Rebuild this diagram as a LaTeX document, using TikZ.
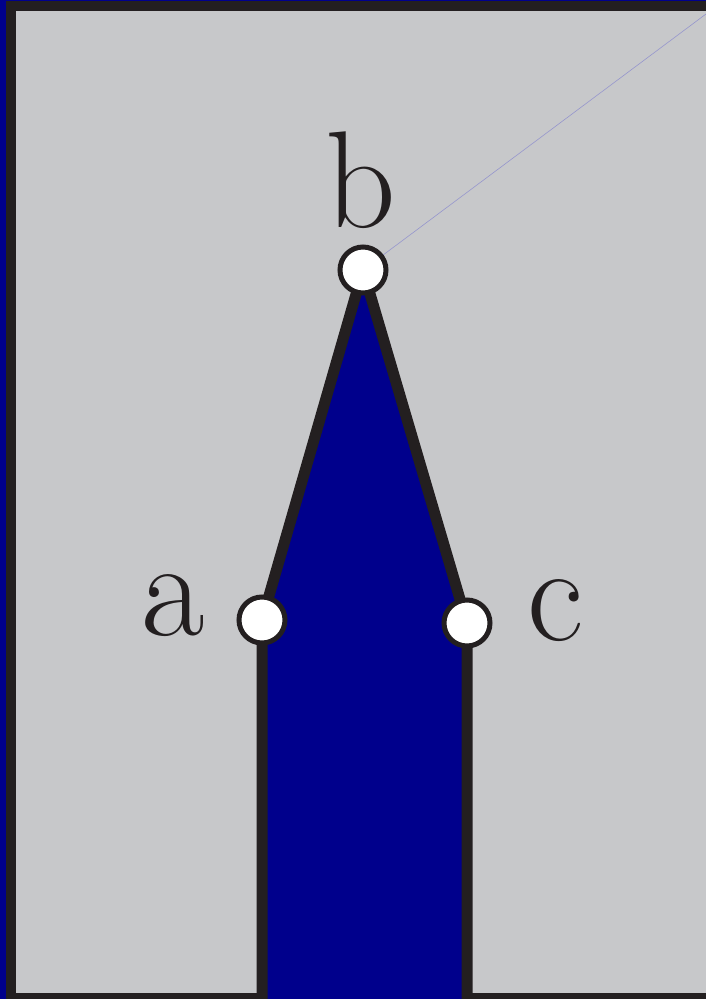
\documentclass[tikz,border=0pt]{standalone}
\usepackage{tikz}
\usetikzlibrary{positioning}
\definecolor{mydark}{RGB}{35,31,32}
\definecolor{myblue}{RGB}{0,0,140}
\definecolor{mygray}{RGB}{199,200,202}
\definecolor{myguide}{RGB}{150,150,205}
\tikzset{
  frame/.style={draw=mydark, fill=mygray, line width=10pt},
  spire/.style={draw=mydark, fill=myblue, line width=11pt, line join=miter},
  joint/.style={circle, draw=mydark, fill=white, line width=5pt,
    minimum size=46pt, inner sep=0pt},
  lbl/.style={font=\fontsize{138pt}{138pt}\selectfont, text=mydark,
    inner sep=0pt, anchor=base},
  guide/.style={draw=myguide, line width=0.6pt}
}
\begin{document}
\begin{tikzpicture}[x=1pt, y=-1pt]
  \useasboundingbox (0,0) rectangle (706,999);
  \clip (0,0) rectangle (706,999);
  \fill[myblue] (0,0) rectangle (706,999);
  \draw[frame] (11,6) rectangle (720,998);

  \coordinate (pa) at (262,620);
  \coordinate (pb) at (363,270);
  \coordinate (pc) at (467,623);
  \coordinate (foota) at (262,1015);
  \coordinate (footc) at (467,1015);
  \coordinate (corner) at (706,14);

  \draw[spire] (foota) -- (pa) -- (pb) -- (pc) -- (footc);
  \draw[guide] (pb) -- (corner);

  \node[joint] (a) at (pa) {};
  \node[joint] (b) at (pb) {};
  \node[joint] (c) at (pc) {};

  \node[lbl] (la) at (173,635) {a};
  \node[lbl] (lb) at (361,227) {b};
  \node[lbl] (lc) at (556,640) {c};
\end{tikzpicture}
\end{document}
